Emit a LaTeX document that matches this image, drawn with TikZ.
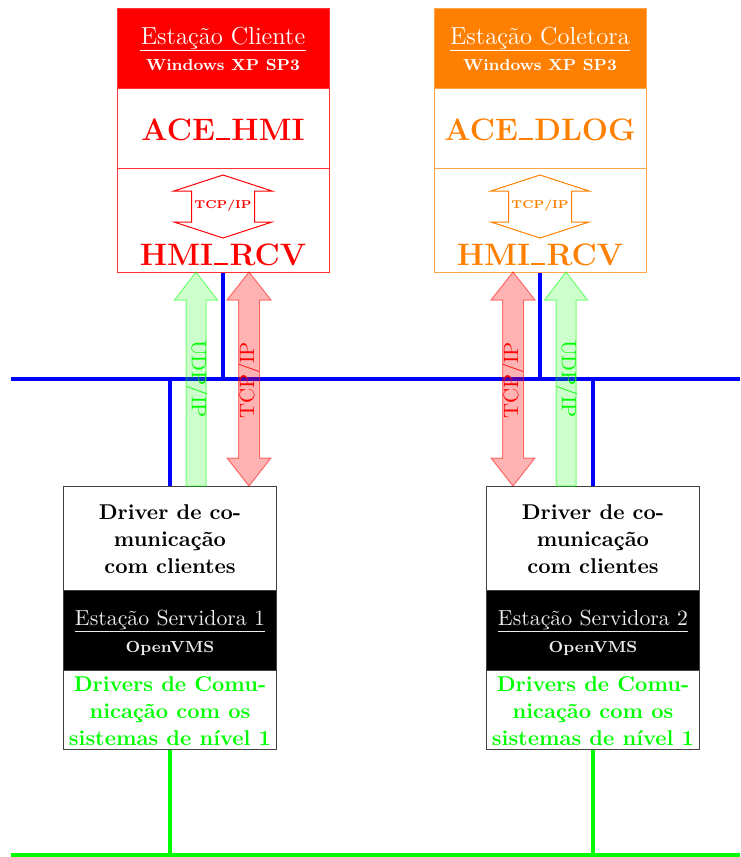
\documentclass[tikz,border=0pt]{standalone}
\usepackage{fontspec}
\definecolor{cRed}{RGB}{255,0,0}
\definecolor{cOrange}{RGB}{255,128,0}
\definecolor{cGreen}{RGB}{0,255,0}
\definecolor{cBlue}{RGB}{0,0,255}
% short underscore drawn as a rule
\newcommand\usc{\leavevmode\kern.04em\vbox{\hrule width.45em height.08em}\kern.04em}
\tikzset{
  sect/.style={rectangle, inner sep=0pt, line width=0.5pt},
  cliW/.style={minimum width=106pt},
  srvW/.style={minimum width=106.5pt},
  titletxt/.style={inner sep=0pt, font=\fontsize{12.3}{15}\selectfont},
  subtxt/.style={inner sep=0pt, font=\fontsize{8}{10}\selectfont\bfseries},
  bigtxt/.style={inner sep=0pt, font=\fontsize{15.5}{18}\selectfont\bfseries},
  tinytxt/.style={inner sep=0pt, font=\fontsize{5.7}{7}\selectfont\bfseries},
  drvtxt/.style={inner sep=0pt, align=center, font=\fontsize{10.7}{13.5}\selectfont\bfseries},
  srvtxt/.style={inner sep=0pt, font=\fontsize{10.9}{13}\selectfont},
  protxt/.style={inner sep=0pt, font=\fontsize{10.4}{12}\selectfont},
  bluebus/.style={draw=cBlue, line width=2pt},
  greenbus/.style={draw=cGreen, line width=2pt},
  udparrow/.style={draw=cGreen, draw opacity=0.5, fill=cGreen, fill opacity=0.2, line width=0.5pt},
  tcparrow/.style={draw=cRed, draw opacity=0.5, fill=cRed, fill opacity=0.3, line width=0.5pt},
}
\begin{document}
\begin{tikzpicture}[x=0.5pt, y=-0.5pt]
\useasboundingbox (0,0) rectangle (740,857);

% network buses
\coordinate (bw) at (11,379);
\coordinate (be) at (740,379);
\coordinate (gw) at (11,855);
\coordinate (ge) at (740,855);
\draw[bluebus] (bw) -- (be);
\draw[greenbus] (gw) -- (ge);

% ---- client station ----
\node[sect, cliW, draw=cRed!80, fill=cRed, minimum height=40pt] (h1) at (223,48) {};
\node[sect, cliW, draw=cRed!80, minimum height=40pt] (a1) at (223,128) {};
\node[sect, cliW, draw=cRed!80, minimum height=52pt] (r1) at (223,220) {};
\node[titletxt, text=white, anchor=base] (t1) at (223,44) {Estação Cliente};
\draw[white, line width=0.5pt] (t1.west |- 0,50) -- (t1.east |- 0,50);
\node[subtxt, text=white, anchor=base] (w1) at (223,70) {Windows XP SP3};
\node[bigtxt, text=cRed, anchor=base] (n1) at (223,140) {ACE\usc HMI};
\draw[cRed, line width=0.5pt] (223,175) -- (272,191) -- (254.5,191) -- (254.5,222) -- (272,222)
  -- (223,238) -- (174,222) -- (191.5,222) -- (191.5,191) -- (174,191) -- cycle;
\node[tinytxt, text=cRed] (p1) at (223,206) {TCP/IP};
\node[bigtxt, text=cRed, anchor=base] (m1) at (223,265) {HMI\usc RCV};

% ---- collector station ----
\node[sect, cliW, draw=cOrange!70, fill=cOrange, minimum height=40pt] (h2) at (540,48) {};
\node[sect, cliW, draw=cOrange!70, minimum height=40pt] (a2) at (540,128) {};
\node[sect, cliW, draw=cOrange!70, minimum height=52pt] (r2) at (540,220) {};
\node[titletxt, text=white, anchor=base] (t2) at (540,44) {Estação Coletora};
\draw[white, line width=0.5pt] (t2.west |- 0,50) -- (t2.east |- 0,50);
\node[subtxt, text=white, anchor=base] (w2) at (540,70) {Windows XP SP3};
\node[bigtxt, text=cOrange, anchor=base] (n2) at (540,140) {ACE\usc DLOG};
\draw[cOrange, line width=0.5pt] (540,175) -- (589,191) -- (571.5,191) -- (571.5,222) -- (589,222)
  -- (540,238) -- (491,222) -- (508.5,222) -- (508.5,191) -- (491,191) -- cycle;
\node[tinytxt, text=cOrange] (p2) at (540,206) {TCP/IP};
\node[bigtxt, text=cOrange, anchor=base] (m2) at (540,265) {HMI\usc RCV};

% ---- server stations ----
\node[sect, srvW, draw=black!75, minimum height=52pt] (d1) at (170,538) {};
\node[sect, srvW, draw=black!75, fill=black, minimum height=40pt] (s1) at (170,630) {};
\node[sect, srvW, draw=black!75, minimum height=39.5pt] (g1) at (170,709.5) {};
\node[drvtxt] (dt1) at (170,539) {Driver de co-\\municação\\com clientes};
\node[srvtxt, text=black!8, anchor=base] (st1) at (170,625) {Estação Servidora 1};
\draw[black!8, line width=0.5pt] (st1.west |- 0,631) -- (st1.east |- 0,631);
\node[subtxt, text=black!8, anchor=base] (o1) at (170,652) {OpenVMS};
\node[drvtxt, text=cGreen] (gt1) at (170,711) {Drivers de Comu-\\nicação com os\\sistemas de nível 1};

\node[sect, srvW, draw=black!75, minimum height=52pt] (d2) at (593,538) {};
\node[sect, srvW, draw=black!75, fill=black, minimum height=40pt] (s2) at (593,630) {};
\node[sect, srvW, draw=black!75, minimum height=39.5pt] (g2) at (593,709.5) {};
\node[drvtxt] (dt2) at (593,539) {Driver de co-\\municação\\com clientes};
\node[srvtxt, text=black!8, anchor=base] (st2) at (593,625) {Estação Servidora 2};
\draw[black!8, line width=0.5pt] (st2.west |- 0,631) -- (st2.east |- 0,631);
\node[subtxt, text=black!8, anchor=base] (o2) at (593,652) {OpenVMS};
\node[drvtxt, text=cGreen] (gt2) at (593,711) {Drivers de Comu-\\nicação com os\\sistemas de nível 1};

% ---- drops to the buses ----
\draw[bluebus] (r1.south) -- (r1.south |- bw);
\draw[bluebus] (d1.north) -- (d1.north |- bw);
\draw[bluebus] (r2.south) -- (r2.south |- bw);
\draw[bluebus] (d2.north) -- (d2.north |- bw);
\draw[greenbus] (g1.south) -- (g1.south |- gw);
\draw[greenbus] (g2.south) -- (g2.south |- gw);

% ---- protocol arrows between servers and stations ----
\draw[udparrow] (186,486) -- (186,300) -- (174.5,300) -- (196,272) -- (217.5,300) -- (206,300) -- (206,486) -- cycle;
\node[protxt, text=cGreen, rotate=-90] (u1) at (197,379) {UDP/IP};
\draw[tcparrow] (238.5,300) -- (227,300) -- (249,272) -- (271,300) -- (259.5,300) -- (259.5,458)
  -- (271,458) -- (249,486) -- (227,458) -- (238.5,458) -- cycle;
\node[protxt, text=cRed, rotate=90] (c1) at (249,380) {TCP/IP};

\draw[tcparrow] (502.5,300) -- (491,300) -- (513,272) -- (535,300) -- (523.5,300) -- (523.5,458)
  -- (535,458) -- (513,486) -- (491,458) -- (502.5,458) -- cycle;
\node[protxt, text=cRed, rotate=90] (c2) at (513,380) {TCP/IP};
\draw[udparrow] (556,486) -- (556,300) -- (544.5,300) -- (566,272) -- (587.5,300) -- (576,300) -- (576,486) -- cycle;
\node[protxt, text=cGreen, rotate=-90] (u2) at (567,379) {UDP/IP};
\end{tikzpicture}
\end{document}
